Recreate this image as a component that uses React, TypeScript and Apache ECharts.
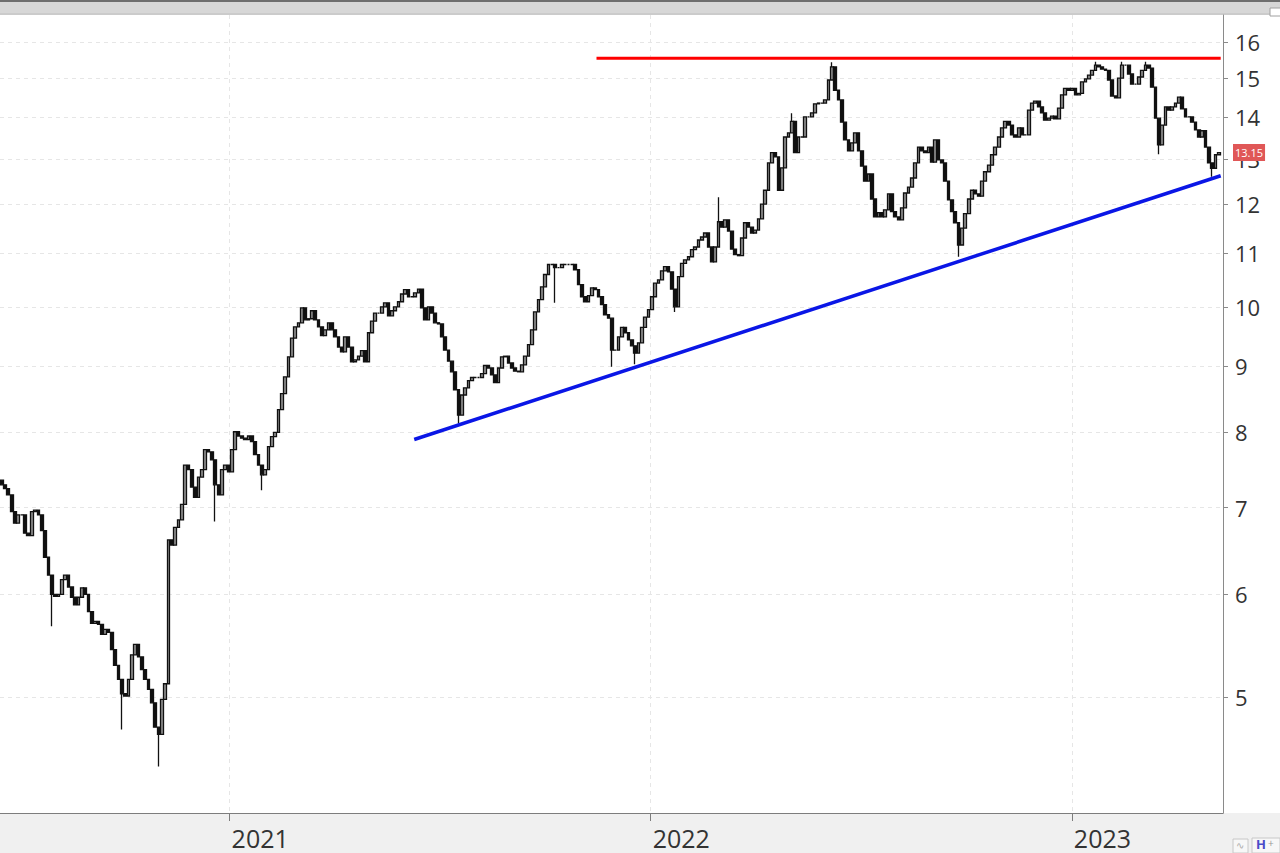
import React, { useEffect, useRef } from 'react';
import * as echarts from 'echarts';

const DAY = 86400000;
const axisStart = new Date(2020, 5, 16).getTime();
const axisEnd = new Date(2023, 4, 12).getTime();
// samples are roughly every two trading sessions
const firstSample = axisStart + 1.45 * DAY;
const sampleStep = 2.89 * DAY;

const yearTicks = ['2021-01-01', '2022-01-01', '2023-01-01'];
const priceTicks = [5, 6, 7, 8, 9, 10, 11, 12, 13, 14, 15, 16];

const firstOpen = 7.35;
const closes = [
  7.29, 7.24, 7.16, 6.95, 6.81, 6.91, 6.91, 6.69, 6.66, 6.95,
  6.97, 6.91, 6.72, 6.41, 6.21, 6.00, 5.98, 6.00, 6.16, 6.21,
  6.08, 5.97, 5.89, 5.97, 6.07, 6.00, 5.82, 5.70, 5.72, 5.69,
  5.59, 5.64, 5.61, 5.44, 5.29, 5.16, 5.03, 5.01, 5.16, 5.39,
  5.49, 5.37, 5.25, 5.16, 5.07, 4.95, 4.74, 4.68, 4.98, 5.12,
  6.61, 6.55, 6.76, 6.85, 7.04, 7.55, 7.49, 7.26, 7.13, 7.39,
  7.49, 7.76, 7.73, 7.62, 7.29, 7.16, 7.49, 7.55, 7.46, 7.76,
  8.01, 7.95, 7.92, 7.90, 7.95, 7.87, 7.69, 7.55, 7.42, 7.49,
  7.80, 7.94, 8.00, 8.33, 8.57, 8.83, 9.15, 9.46, 9.65, 9.72,
  9.98, 9.77, 9.79, 9.93, 9.77, 9.65, 9.50, 9.60, 9.72, 9.60,
  9.48, 9.31, 9.23, 9.48, 9.31, 9.07, 9.10, 9.16, 9.25, 9.07,
  9.55, 9.75, 9.89, 9.89, 10.00, 10.07, 9.84, 9.93, 10.00, 10.09,
  10.23, 10.31, 10.18, 10.18, 10.25, 10.32, 9.98, 9.77, 10.00, 9.89,
  9.72, 9.70, 9.48, 9.26, 9.08, 8.91, 8.63, 8.25, 8.55, 8.66,
  8.77, 8.82, 8.82, 8.82, 8.88, 9.01, 8.97, 8.86, 8.74, 8.97,
  9.15, 9.16, 9.05, 8.97, 8.92, 8.91, 9.02, 9.16, 9.35, 9.60,
  9.91, 10.13, 10.36, 10.59, 10.78, 10.78, 10.72, 10.72, 10.78, 10.78,
  10.78, 10.78, 10.68, 10.40, 10.18, 10.09, 10.20, 10.34, 10.31, 10.18,
  10.04, 9.86, 9.80, 9.26, 9.26, 9.48, 9.64, 9.55, 9.43, 9.33,
  9.21, 9.38, 9.64, 9.82, 9.95, 10.18, 10.43, 10.49, 10.66, 10.74,
  10.64, 10.32, 10.00, 10.55, 10.80, 10.87, 10.93, 11.07, 11.12, 11.26,
  11.32, 11.40, 11.12, 10.83, 11.12, 11.63, 11.52, 11.67, 11.44, 11.08,
  10.97, 10.95, 11.30, 11.61, 11.52, 11.40, 11.46, 11.69, 12.00, 12.30,
  12.91, 13.15, 13.05, 12.30, 12.80, 13.52, 13.62, 13.90, 13.15, 13.52,
  13.52, 14.01, 14.01, 14.11, 14.34, 14.36, 14.36, 14.44, 14.96, 15.31,
  14.69, 14.44, 13.88, 13.45, 13.19, 13.38, 13.62, 13.19, 12.84, 12.50,
  12.66, 12.11, 11.73, 11.82, 11.73, 11.88, 12.22, 11.84, 11.73, 11.67,
  11.92, 12.24, 12.37, 12.57, 12.91, 13.28, 13.19, 13.15, 13.28, 12.93,
  13.45, 12.98, 12.91, 12.50, 12.09, 11.84, 11.61, 11.16, 11.50, 11.80,
  12.11, 12.30, 12.22, 12.17, 12.50, 12.71, 12.86, 13.10, 13.28, 13.52,
  13.74, 13.90, 13.81, 13.57, 13.52, 13.74, 13.57, 13.57, 14.18, 14.36,
  14.41, 14.26, 14.11, 13.93, 13.98, 14.03, 13.96, 14.23, 14.57, 14.74,
  14.69, 14.74, 14.57, 14.61, 14.91, 14.99, 15.09, 15.22, 15.36, 15.31,
  15.25, 15.22, 14.96, 14.54, 14.49, 15.01, 15.36, 15.36, 15.12, 14.85,
  14.85, 15.04, 15.22, 15.36, 15.28, 14.77, 13.98, 13.33, 13.81, 14.26,
  14.18, 14.26, 14.36, 14.51, 14.21, 14.01, 14.01, 13.88, 13.69, 13.52,
  13.67, 13.28, 12.91, 12.79, 13.10, 13.15,
];

// notable wick extremes: [sample index, price]
const wickLows: [number, number][] = [
  [15, 5.67], [36, 4.72], [47, 4.42], [64, 6.83], [78, 7.22], [137, 8.13],
  [166, 10.07], [183, 8.99], [190, 9.03], [202, 9.91], [233, 12.71],
  [287, 10.93], [347, 13.11], [363, 12.6],
];
const wickHighs: [number, number][] = [
  [215, 12.15], [237, 14.1], [249, 15.44], [328, 15.45], [336, 15.45], [343, 15.45],
];

const resistanceLevel = 15.55;
const resistanceSpan = ['2021-11-15', '2023-05-10'];
const supportLine: [string, number][] = [
  ['2021-06-10', 7.9],
  ['2023-05-10', 12.62],
];

function toTime(s: string): number {
  const [y, m, d] = s.split('-').map(Number);
  return new Date(y, m - 1, d).getTime();
}

export default function App() {
  const ref = useRef<HTMLDivElement>(null);

  useEffect(() => {
    document.body.style.margin = '0';
    if (!ref.current) return;
    const chart = echarts.init(ref.current, undefined, { renderer: 'svg' });

    const lowMap = new Map(wickLows);
    const highMap = new Map(wickHighs);
    const candles = closes.map((c, k) => {
      const o = k === 0 ? firstOpen : closes[k - 1];
      const lo = Math.min(o, c, lowMap.has(k) ? (lowMap.get(k) as number) : Infinity);
      const hi = Math.max(o, c, highMap.has(k) ? (highMap.get(k) as number) : -Infinity);
      return [firstSample + k * sampleStep, o, c, lo, hi];
    });
    const lastClose = closes[closes.length - 1];
    const yearTickTimes = yearTicks.map(toTime);

    const font = '"Open Sans", "Noto Sans", sans-serif';

    chart.setOption({
      animation: false,
      backgroundColor: '#ffffff',
      grid: { left: 0, right: 57, top: 15, bottom: 40 },
      xAxis: {
        type: 'value',
        min: axisStart,
        max: axisEnd,
        axisLine: { show: true, lineStyle: { color: '#7d7d7d', width: 1 } },
        axisTick: { show: true, customValues: yearTickTimes, length: 8, lineStyle: { color: '#7d7d7d' } },
        axisLabel: {
          customValues: yearTickTimes,
          formatter: (v: number) => String(new Date(v).getFullYear()),
          align: 'left',
          padding: [0, 0, 0, 2],
          margin: 12,
          fontSize: 25,
          color: '#333333',
          fontFamily: font,
        },
        splitLine: { show: true, lineStyle: { color: '#e6e6e6', type: [4, 4], width: 1 } },
      },
      yAxis: {
        type: 'log',
        logBase: 10,
        position: 'right',
        min: 4.07,
        max: 16.79,
        axisLine: { show: true, lineStyle: { color: '#8a8a8a', width: 1 } },
        axisTick: { show: true, customValues: priceTicks, length: 5, lineStyle: { color: '#8a8a8a' } },
        axisLabel: {
          customValues: priceTicks,
          formatter: (v: number) => String(Math.round(v)),
          margin: 12,
          fontSize: 22,
          color: '#333333',
          fontFamily: font,
        },
        splitLine: { show: true, lineStyle: { color: '#e6e6e6', type: [4, 4], width: 1 } },
      },
      graphic: {
        elements: [
          { type: 'rect', z: -1, shape: { x: 0, y: 0, width: 1280, height: 15 }, style: { fill: '#d7d7d7' } },
          { type: 'rect', z: -1, shape: { x: 0, y: 0, width: 1280, height: 2 }, style: { fill: '#6e6e6e' } },
          { type: 'rect', z: -1, shape: { x: 0, y: 13, width: 1280, height: 2 }, style: { fill: '#cbcbcb' } },
          { type: 'rect', z: -1, shape: { x: 1270, y: 8, width: 12, height: 8 }, style: { fill: '#ffffff', stroke: '#a0a0a0', lineWidth: 1 } },
          { type: 'rect', z: -1, shape: { x: 0, y: 813, width: 1280, height: 40 }, style: { fill: '#f0f0f0' } },
          { type: 'rect', z: 1, shape: { x: 1233, y: 839, width: 15, height: 14 }, style: { fill: '#f7f7f7', stroke: '#c8c8c8', lineWidth: 1 } },
          { type: 'text', z: 1, x: 1236, y: 840, style: { text: '∿', fontSize: 10, fill: '#aaaaaa', fontFamily: font } },
          { type: 'rect', z: 1, shape: { x: 1252, y: 838, width: 28, height: 15 }, style: { fill: '#f7f7f7', stroke: '#c8c8c8', lineWidth: 1 } },
          { type: 'text', z: 1, x: 1256, y: 837, style: { text: 'H', fontSize: 13, fontWeight: 'bold', fill: '#4b4bc8', fontFamily: font } },
          { type: 'text', z: 1, x: 1268, y: 838, style: { text: '+', fontSize: 10, fill: '#999999', fontFamily: font } },
        ],
      },
      series: [
        {
          type: 'candlestick',
          data: candles,
          barWidth: 3.2,
          silent: true,
          itemStyle: {
            color: '#8f8f8f',
            color0: '#111111',
            borderColor: '#111111',
            borderColor0: '#111111',
            borderWidth: 1.3,
          },
          markLine: {
            silent: true,
            symbol: ['none', 'none'],
            lineStyle: { color: 'rgba(0,0,0,0)', width: 0 },
            label: {
              show: true,
              position: 'end',
              distance: 10,
              formatter: lastClose.toFixed(2),
              backgroundColor: '#e05757',
              color: '#ffffff',
              fontSize: 11,
              padding: [3, 2, 3, 2],
              fontFamily: font,
            },
            data: [{ yAxis: lastClose }],
          },
        },
        {
          type: 'line',
          silent: true,
          symbol: 'none',
          z: 5,
          lineStyle: { color: '#ff0000', width: 3 },
          data: resistanceSpan.map((d) => [toTime(d), resistanceLevel]),
        },
        {
          type: 'line',
          silent: true,
          symbol: 'none',
          z: 5,
          lineStyle: { color: '#0a16e6', width: 3.5 },
          data: supportLine.map(([d, v]) => [toTime(d), v]),
        },
      ],
    });

    return () => chart.dispose();
  }, []);

  return <div ref={ref} style={{ width: 1280, height: 853, background: '#ffffff' }} />;
}
